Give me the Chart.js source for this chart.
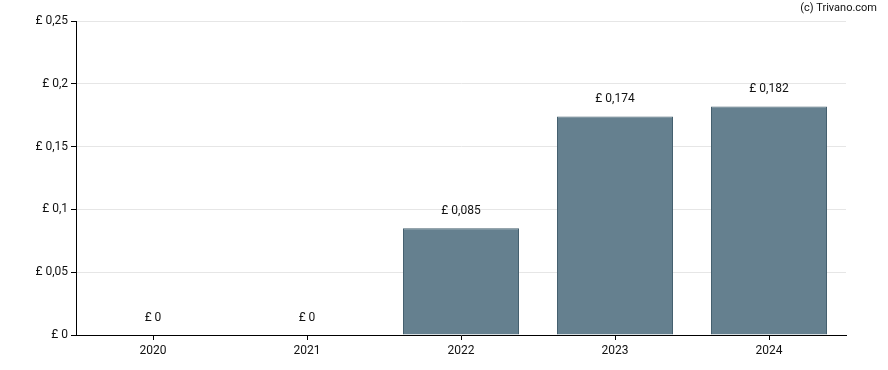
<!DOCTYPE html>
<html>
<head>
<meta charset="utf-8">
<script src="https://cdn.jsdelivr.net/npm/chart.js@4.4.0/dist/chart.umd.min.js"></script>
<style>
  html, body { margin: 0; padding: 0; background: #fff; }
  #wrap { width: 888px; height: 370px; position: relative; }
</style>
</head>
<body>
<div id="wrap"><canvas id="chart" width="888" height="370"></canvas></div>
<script>
// chart data
var years = ["2020", "2021", "2022", "2023", "2024"];
var dividends = [0, 0, 0.085, 0.174, 0.182];
var yTicks = [0, 0.05, 0.1, 0.15, 0.2, 0.25];

// pound value with comma decimals
function fmt(v) {
    return "£ " + String(parseFloat(v.toFixed(4))).replace(".", ",");
}

var labelPlugin = {
    id: 'barLabels',
    afterDatasetsDraw: function (chart) {
        var ctx = chart.ctx;
        var meta = chart.getDatasetMeta(0);
        ctx.save();
        ctx.font = "12px Roboto";
        ctx.fillStyle = "#111";
        ctx.textAlign = "center";
        ctx.textBaseline = "middle";
        meta.data.forEach(function (bar, i) {
            ctx.fillText(fmt(dividends[i]), bar.x, bar.y - 17);
        });
        // copyright
        ctx.font = "11px Roboto";
        ctx.textAlign = "right";
        ctx.fillText("(c) Trivano.com", 877, 8);
        ctx.restore();
    }
};

var ctx = document.getElementById('chart').getContext('2d');
var chart = new Chart(ctx, {
    type: 'bar',
    data: {
        labels: years,
        datasets: [{
            data: dividends,
            backgroundColor: '#65808f',
            borderColor: '#45606f',
            borderWidth: 1,
            inflateAmount: 0,
            barThickness: 116
        }]
    },
    options: {
        responsive: false,
        animation: false,
        layout: { padding: { left: 0, right: 42, top: 21, bottom: 0 } },
        plugins: {
            legend: { display: false },
            tooltip: { enabled: false }
        },
        scales: {
            x: {
                grid: {
                    offset: false,
                    drawOnChartArea: false,
                    tickLength: 5,
                    tickColor: '#000'
                },
                border: { color: '#000', width: 1 },
                ticks: {
                    color: '#111',
                    font: { family: 'Roboto', size: 12 },
                    padding: 4,
                    maxRotation: 0
                },
                afterFit: function (s) { s.height = 35; }
            },
            y: {
                min: 0,
                max: 0.25,
                afterBuildTicks: function (s) {
                    s.ticks = yTicks.map(function (v) { return { value: v }; });
                },
                grid: {
                    color: '#e6e6e6',
                    tickLength: 5,
                    tickColor: '#000'
                },
                border: { color: '#000', width: 1 },
                ticks: {
                    color: '#111',
                    font: { family: 'Roboto', size: 12 },
                    padding: 3,
                    callback: function (v) { return fmt(v); }
                },
                afterFit: function (s) { s.width = 76; }
            }
        }
    },
    plugins: [labelPlugin]
});
</script>
</body>
</html>
